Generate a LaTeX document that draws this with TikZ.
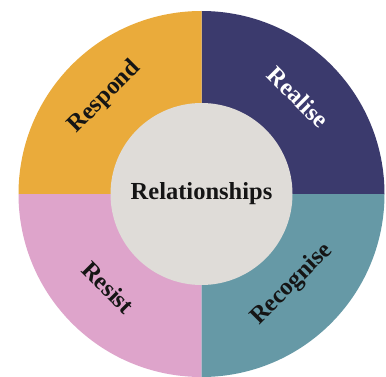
\documentclass[tikz,border=0pt]{standalone}
\usepackage{fontspec}
\setmainfont{Liberation Serif}
\definecolor{respondcol}{HTML}{EAAB3B}
\definecolor{realisecol}{HTML}{3B3A6D}
\definecolor{recognisecol}{HTML}{6699A6}
\definecolor{resistcol}{HTML}{DEA4CB}
\definecolor{hubcol}{HTML}{DFDCD8}
\definecolor{inkcol}{HTML}{151515}
\begin{document}
\begin{tikzpicture}[x=1pt,y=1pt,
    lab/.style={font=\bfseries\fontsize{24.5}{24.5}\selectfont,text=inkcol,inner sep=0pt}]
    \useasboundingbox (0,0) rectangle (386,376);
    \fill[white] (0,0) rectangle (386,376);
    \coordinate (O) at (201.5,182);
    % quarters
    \fill[realisecol] (O) -- ++(0:183) arc (0:90:183) -- cycle;
    \fill[respondcol] (O) -- ++(90:183) arc (90:180:183) -- cycle;
    \fill[resistcol] (O) -- ++(180:183) arc (180:270:183) -- cycle;
    \fill[recognisecol] (O) -- ++(270:183) arc (270:360:183) -- cycle;
    % hub
    \fill[hubcol] (O) circle (91);
    \node[lab] (rel) at (O) {Relationships};
    \node[lab,rotate=45] (respond) at ([shift={(135:137)}]O) {Respond};
    \node[lab,rotate=-45,text=white] (realise) at ([shift={(45:137)}]O) {Realise};
    \node[lab,rotate=-45] (resist) at ([shift={(225:132)}]O) {Resist};
    \node[lab,rotate=45] (recognise) at ([shift={(-45:128)}]O) {Recognise};
\end{tikzpicture}
\end{document}
